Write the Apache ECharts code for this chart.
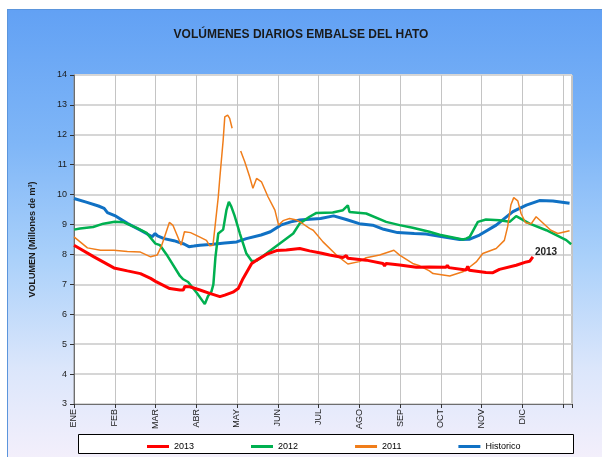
<!DOCTYPE html>
<html>
<head>
<meta charset="utf-8">
<script src="https://cdn.jsdelivr.net/npm/echarts@6/dist/echarts.min.js"></script>
<style>
html,body{margin:0;padding:0;background:#ffffff;}
#bg{position:absolute;left:7px;top:9px;width:594px;height:447px;border:1px solid #5b95dc;border-right:none;border-bottom:none;
background:linear-gradient(to bottom,#62a1f4 0%,#7fb6f7 30%,#a9d0fa 55%,#dbe6fb 80%,#f3effb 100%);}
#chart{position:absolute;left:0;top:0;width:602px;height:457px;}
</style>
</head>
<body>
<div id="bg"></div>
<div id="chart"></div>
<script>
// x = position in months from 1 January (0 = ENE, 1 = FEB, ...), y = volume (millones de m3)
const months = ['ENE','FEB','MAR','ABR','MAY','JUN','JUL','AGO','SEP','OCT','NOV','DIC'];
const yTicks = [3,4,5,6,7,8,9,10,11,12,13,14];

const s2013 = [
  [0,8.31],[0.49,7.92],[0.98,7.55],[1.31,7.45],[1.63,7.36],[1.88,7.2],[2.0,7.1],[2.35,6.86],[2.6,6.81],[2.68,6.81],
  [2.72,6.93],[2.84,6.92],[3.09,6.81],[3.33,6.7],[3.58,6.59],[3.7,6.64],[3.9,6.74],[4.03,6.86],[4.15,7.2],[4.36,7.7],
  [4.48,7.81],[4.72,8.0],[4.97,8.13],[5.21,8.15],[5.54,8.2],[5.78,8.12],[6.05,8.05],[6.27,7.98],[6.6,7.9],[6.68,7.96],
  [6.72,7.87],[7.17,7.81],[7.58,7.7],[7.62,7.62],[7.66,7.7],[7.99,7.65],[8.4,7.57],[8.72,7.58],[9.13,7.57],[9.16,7.64],
  [9.2,7.56],[9.62,7.48],[9.66,7.6],[9.7,7.47],[10.11,7.4],[10.28,7.39],[10.44,7.5],[10.85,7.64],[11.1,7.75],[11.18,7.77],[11.26,7.92]
];
const s2012 = [
  [0,8.83],[0.15,8.87],[0.47,8.92],[0.72,9.03],[1.0,9.09],[1.21,9.08],[1.54,8.89],[1.78,8.72],[2.0,8.36],[2.11,8.31],
  [2.27,8.0],[2.6,7.28],[2.68,7.17],[2.8,7.08],[3.01,6.72],[3.21,6.34],[3.29,6.61],[3.37,6.75],[3.42,7.0],[3.47,7.9],
  [3.54,8.7],[3.66,8.83],[3.74,9.48],[3.8,9.76],[3.86,9.6],[3.94,9.3],[4.07,8.7],[4.23,8.03],[4.36,7.78],[4.48,7.79],
  [4.72,8.03],[5.05,8.37],[5.38,8.7],[5.54,9.04],[5.78,9.26],[5.95,9.39],[6.35,9.4],[6.6,9.48],[6.72,9.64],[6.76,9.42],
  [7.17,9.37],[7.66,9.09],[7.99,8.98],[8.31,8.89],[8.72,8.76],[8.97,8.66],[9.54,8.5],[9.62,8.53],[9.71,8.59],[9.91,9.09],
  [10.11,9.17],[10.44,9.14],[10.69,9.09],[10.85,9.28],[11.18,9.03],[11.59,8.81],[12.08,8.48],[12.2,8.34]
];
const s2011 = [
  [0,8.59],[0.33,8.22],[0.65,8.14],[0.98,8.14],[1.31,8.1],[1.63,8.08],[1.88,7.92],[2.04,7.98],[2.14,8.26],[2.25,8.7],
  [2.34,9.07],[2.43,8.97],[2.53,8.64],[2.63,8.31],[2.71,8.76],[2.86,8.73],[3.09,8.58],[3.25,8.47],[3.33,8.29],[3.41,8.31],
  [3.46,8.92],[3.54,9.92],[3.58,10.59],[3.66,11.82],[3.7,12.6],[3.77,12.66],[3.82,12.55],[3.88,12.22],[3.98,'-'],
  [4.09,11.46],[4.19,11.1],[4.31,10.6],[4.39,10.21],[4.48,10.54],[4.6,10.43],[4.76,9.93],[4.93,9.48],[5.02,8.98],
  [5.13,9.13],[5.29,9.2],[5.46,9.15],[5.58,9.06],[5.78,8.87],[5.87,8.81],[6.11,8.42],[6.44,7.98],[6.72,7.68],[7.0,7.76],
  [7.17,7.89],[7.5,7.98],[7.85,8.14],[7.99,7.98],[8.31,7.7],[8.48,7.62],[8.72,7.45],[8.81,7.36],[9.22,7.28],[9.54,7.42],
  [9.71,7.58],[9.87,7.75],[10.03,8.03],[10.36,8.2],[10.56,8.47],[10.64,8.92],[10.72,9.65],[10.79,9.9],[10.89,9.79],
  [10.97,9.37],[11.08,9.06],[11.22,9.03],[11.34,9.26],[11.5,9.06],[11.7,8.81],[11.87,8.7],[12.16,8.79]
];
const sHist = [
  [0,9.87],[0.3,9.75],[0.6,9.62],[0.74,9.54],[0.82,9.4],[1.0,9.3],[1.31,9.04],[1.63,8.81],[1.92,8.59],[1.99,8.7],
  [2.05,8.62],[2.21,8.53],[2.45,8.46],[2.7,8.35],[2.82,8.26],[2.94,8.28],[3.09,8.31],[3.41,8.34],[3.7,8.38],[3.99,8.42],
  [4.23,8.53],[4.59,8.65],[4.82,8.76],[5.07,8.98],[5.32,9.09],[5.54,9.15],[5.78,9.18],[6.05,9.2],[6.37,9.29],[6.68,9.17],
  [7.0,9.03],[7.33,8.98],[7.6,8.84],[7.94,8.73],[8.35,8.7],[8.64,8.68],[8.97,8.61],[9.46,8.5],[9.71,8.51],[9.95,8.65],
  [10.36,8.98],[10.77,9.43],[11.1,9.65],[11.42,9.8],[11.75,9.79],[12.16,9.71]
];

const chart = echarts.init(document.getElementById('chart'), null, {renderer:'canvas'});
const font = 'Liberation Sans, Arial, sans-serif';
chart.setOption({
  backgroundColor: 'transparent',
  animation: false,
  title: {
    text: 'VOLÚMENES DIARIOS EMBALSE DEL HATO',
    left: 'center', top: 24,
    textStyle: {fontFamily: font, fontSize: 12, fontWeight: 'bold', color: '#1a1a1a'}
  },
  graphic: [{
    type: 'rect', left: 78, top: 434, shape: {width: 495, height: 19},
    style: {fill: '#ffffff', stroke: '#000000', lineWidth: 1}, z: 0
  }],
  legend: {
    left: 142, top: 437, itemWidth: 22, itemHeight: 3, itemGap: 57, icon: 'rect',
    textStyle: {fontFamily: font, fontSize: 9, color: '#000'},
    data: ['2013','2012','2011','Historico'], z: 5
  },
  grid: {left: 74, top: 75, right: 30, bottom: 53, show: true, borderColor: '#8c8c8c', borderWidth: 1, backgroundColor: '#ffffff'},
  xAxis: {
    type: 'value', min: 0, max: 12.22, interval: 1,
    axisLine: {lineStyle: {color: '#6e6e6e', width: 1}},
    axisTick: {show: true, length: 4, lineStyle: {color: '#333'}},
    axisLabel: {rotate: 90, fontFamily: font, fontSize: 9, color: '#1a1a1a', margin: 5,
      formatter: v => (Number.isInteger(v) && months[v]) ? months[v] : ''},
    splitLine: {show: true, lineStyle: {color: '#c4c4c4', width: 1}}
  },
  yAxis: {
    type: 'value', min: yTicks[0], max: yTicks[yTicks.length-1], interval: 1,
    name: 'VOLUMEN (Millones de m³)', nameLocation: 'middle', nameGap: 37, nameRotate: 90,
    nameTextStyle: {fontFamily: font, fontSize: 9, fontWeight: 'bold', color: '#1a1a1a'},
    axisLine: {show: true, lineStyle: {color: '#6e6e6e', width: 1}},
    axisTick: {show: true, length: 4, lineStyle: {color: '#333'}},
    axisLabel: {fontFamily: font, fontSize: 9, color: '#1a1a1a', margin: 7},
    splitLine: {show: true, lineStyle: {color: '#d6d6d6', width: 2}}
  },
  series: [
    {name: '2013', type: 'line', data: s2013, showSymbol: false, symbol: 'none', z: 6,
     lineStyle: {color: '#ff0000', width: 3}, itemStyle: {color: '#ff0000'},
     endLabel: {show: true, formatter: '2013', distance: 2, offset: [0, -5], fontFamily: font, fontSize: 10, fontWeight: 'bold', color: '#222'}},
    {name: '2012', type: 'line', data: s2012, showSymbol: false, symbol: 'none', z: 4,
     lineStyle: {color: '#00b050', width: 2.5}, itemStyle: {color: '#00b050'}},
    {name: '2011', type: 'line', data: s2011, showSymbol: false, symbol: 'none', z: 5, connectNulls: false,
     lineStyle: {color: '#f07d1a', width: 1.5}, itemStyle: {color: '#f07d1a'}},
    {name: 'Historico', type: 'line', data: sHist, showSymbol: false, symbol: 'none', z: 3,
     lineStyle: {color: '#1071c4', width: 3}, itemStyle: {color: '#1071c4'}}
  ]
});
</script>
</body>
</html>
